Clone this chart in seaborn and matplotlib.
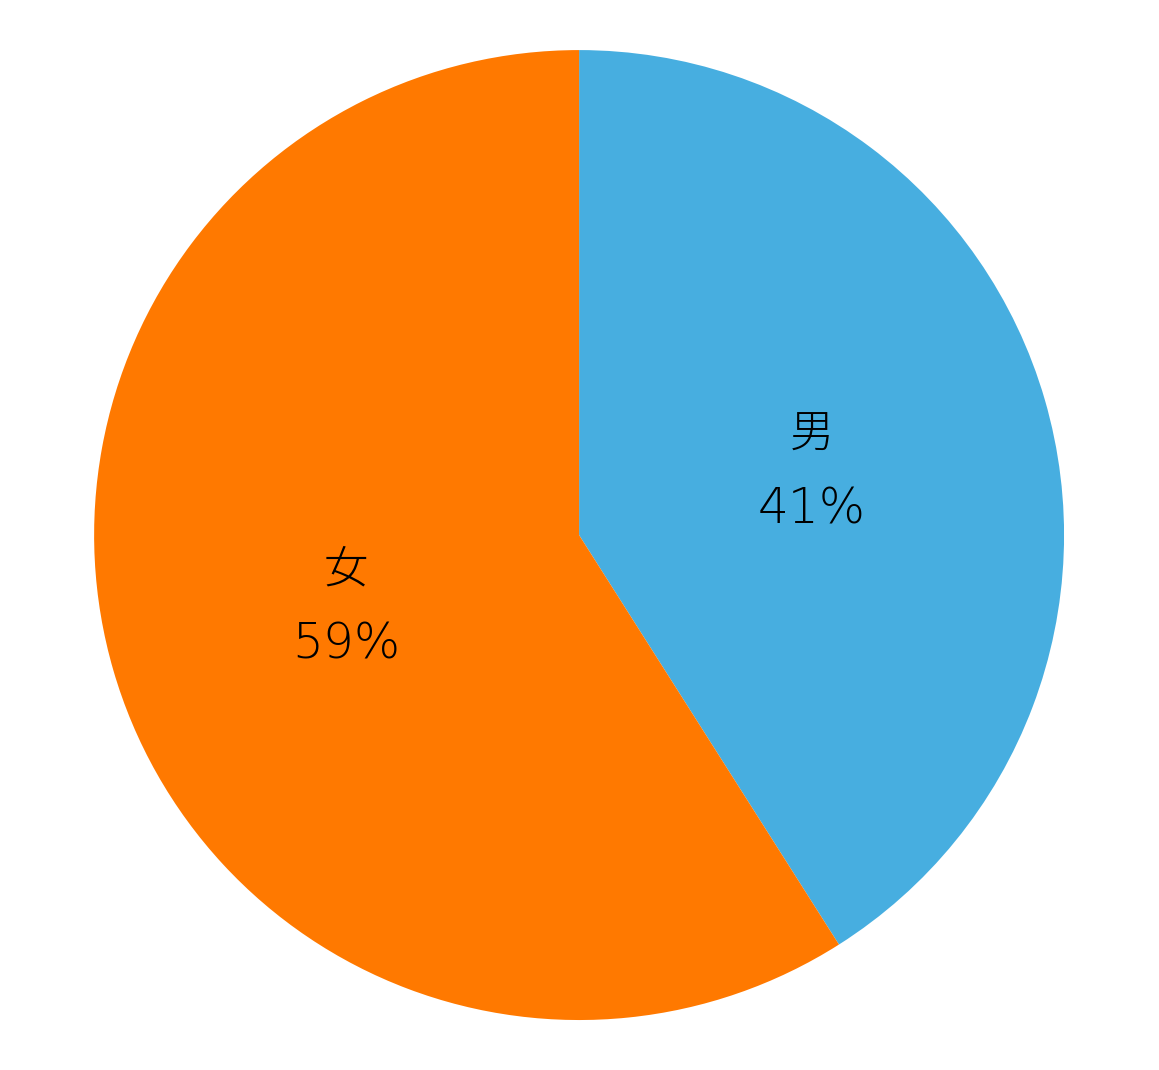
import matplotlib.pyplot as plt
import seaborn as sns
from matplotlib.transforms import ScaledTranslation

genders = ['男', '女']
shares = [41, 59]
colors = ['#47AEE0', '#FF7900']

sns.set_theme(style='white')
plt.rcParams['font.family'] = ['Inter', 'Noto Sans CJK JP', 'DejaVu Sans']

fig = plt.figure(figsize=(11.59, 10.70), dpi=100)
ax = fig.add_axes([0.0812, 0.0467, 0.8369, 0.9065])

wedges, texts, pcts = ax.pie(shares, labels=genders, colors=colors, startangle=90,
                             counterclock=False, labeldistance=0.5,
                             autopct='%.0f%%', pctdistance=0.5,
                             wedgeprops={'linewidth': 0},
                             textprops={'fontsize': 32, 'fontweight': 'light',
                                        'color': 'black'})
for t in texts:
    t.set_horizontalalignment('center')
    t.set_verticalalignment('baseline')
    t.set_transform(t.get_transform() + ScaledTranslation(0, 0.2, fig.dpi_scale_trans))
for t in pcts:
    t.set_family(['DejaVu Sans'])
    t.set_fontweight(200)
    t.set_fontsize(35)
    t.set_horizontalalignment('center')
    t.set_verticalalignment('top')
    t.set_transform(t.get_transform() + ScaledTranslation(0, -0.18, fig.dpi_scale_trans))

ax.set_xlim(-1, 1)
ax.set_ylim(-1, 1)
ax.set_aspect('equal')
ax.axis('off')

fig.savefig('out.png', dpi=100)
plt.close(fig)
